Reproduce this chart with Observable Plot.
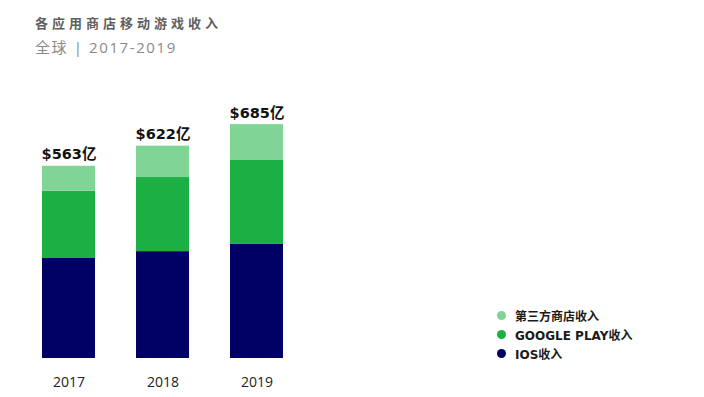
<!DOCTYPE html>
<html>
<head>
<meta charset="utf-8">
<script src="https://cdn.jsdelivr.net/npm/d3@7"></script>
<script src="https://cdn.jsdelivr.net/npm/@observablehq/plot@0.6"></script>
<style>
  body { margin: 0; background: #fff; font-family: "Noto Sans CJK SC", "Noto Sans", sans-serif; }
  #wrap { position: relative; width: 704px; height: 397px; overflow: hidden; }
  #header { position: relative; height: 70px; }
  .title { position: absolute; left: 35px; top: 13px; font-size: 13px; font-weight: 700; color: #5f5f5f; letter-spacing: 4px; line-height: 20px; }
  .subtitle { position: absolute; left: 35px; top: 37px; font-family: "Open Sans", "Noto Sans CJK SC", sans-serif; font-size: 15px; font-weight: 400; color: #8a8a8a; letter-spacing: 1.6px; line-height: 20px; }
  #legend { position: absolute; left: 497px; top: 306px; font-family: "DejaVu Sans", "Noto Sans CJK SC", sans-serif; font-size: 12px; font-weight: 700; color: #1a1a1a; }
  .item { display: flex; align-items: center; height: 19px; }
  .dot { width: 9px; height: 9px; border-radius: 50%; margin-right: 9px; }
</style>
</head>
<body>
<div id="wrap">
  <div id="header">
    <div class="title">各应用商店移动游戏收入</div>
    <div class="subtitle">全球 | 2017-2019</div>
  </div>
  <div id="chart"></div>
  <div id="legend"></div>
</div>
<script>
const years = ["2017", "2018", "2019"];
const seriesNames = ["IOS收入", "GOOGLE PLAY收入", "第三方商店收入"];
const iosValues = [293, 313, 334];
const googlePlayValues = [197, 217, 246];
const thirdPartyValues = [73, 92, 105];
const totalLabels = ["$563亿", "$622亿", "$685亿"];
const colors = ["#000064", "#1caf43", "#80d596"];

const rows = [];
years.forEach((y, i) => {
  rows.push({year: y, series: seriesNames[0], value: iosValues[i]});
  rows.push({year: y, series: seriesNames[1], value: googlePlayValues[i]});
  rows.push({year: y, series: seriesNames[2], value: thirdPartyValues[i]});
});
const totals = years.map((y, i) => ({year: y, total: iosValues[i] + googlePlayValues[i] + thirdPartyValues[i], label: totalLabels[i]}));

const chart = Plot.plot({
  width: 704,
  height: 327,
  marginTop: 49,
  marginBottom: 39,
  marginLeft: 0,
  marginRight: 0,
  style: {fontFamily: "'Open Sans', 'Noto Sans CJK SC', sans-serif", background: "#fff"},
  x: {domain: years, range: [0, 326], padding: 0.432, label: null},
  y: {domain: [0, 700], axis: null},
  color: {domain: seriesNames, range: colors},
  marks: [
    Plot.barY(rows, {x: "year", y: "value", fill: "series", order: seriesNames}),
    Plot.text(totals, {x: "year", y: "total", text: "label", dy: -7, lineAnchor: "bottom", fontSize: 14.5, fontWeight: 700, fill: "#111", fontFamily: "'DejaVu Sans', 'Noto Sans CJK SC', sans-serif"}),
    Plot.axisX({tickSize: 0, tickPadding: 19, fontSize: 14, fill: "#222"})
  ]
});
document.getElementById("chart").appendChild(chart);

const legend = document.getElementById("legend");
[2, 1, 0].forEach(i => {
  const it = document.createElement("div");
  it.className = "item";
  const d = document.createElement("span");
  d.className = "dot";
  d.style.background = colors[i];
  const t = document.createElement("span");
  t.textContent = seriesNames[i];
  it.appendChild(d); it.appendChild(t);
  legend.appendChild(it);
});
</script>
</body>
</html>
